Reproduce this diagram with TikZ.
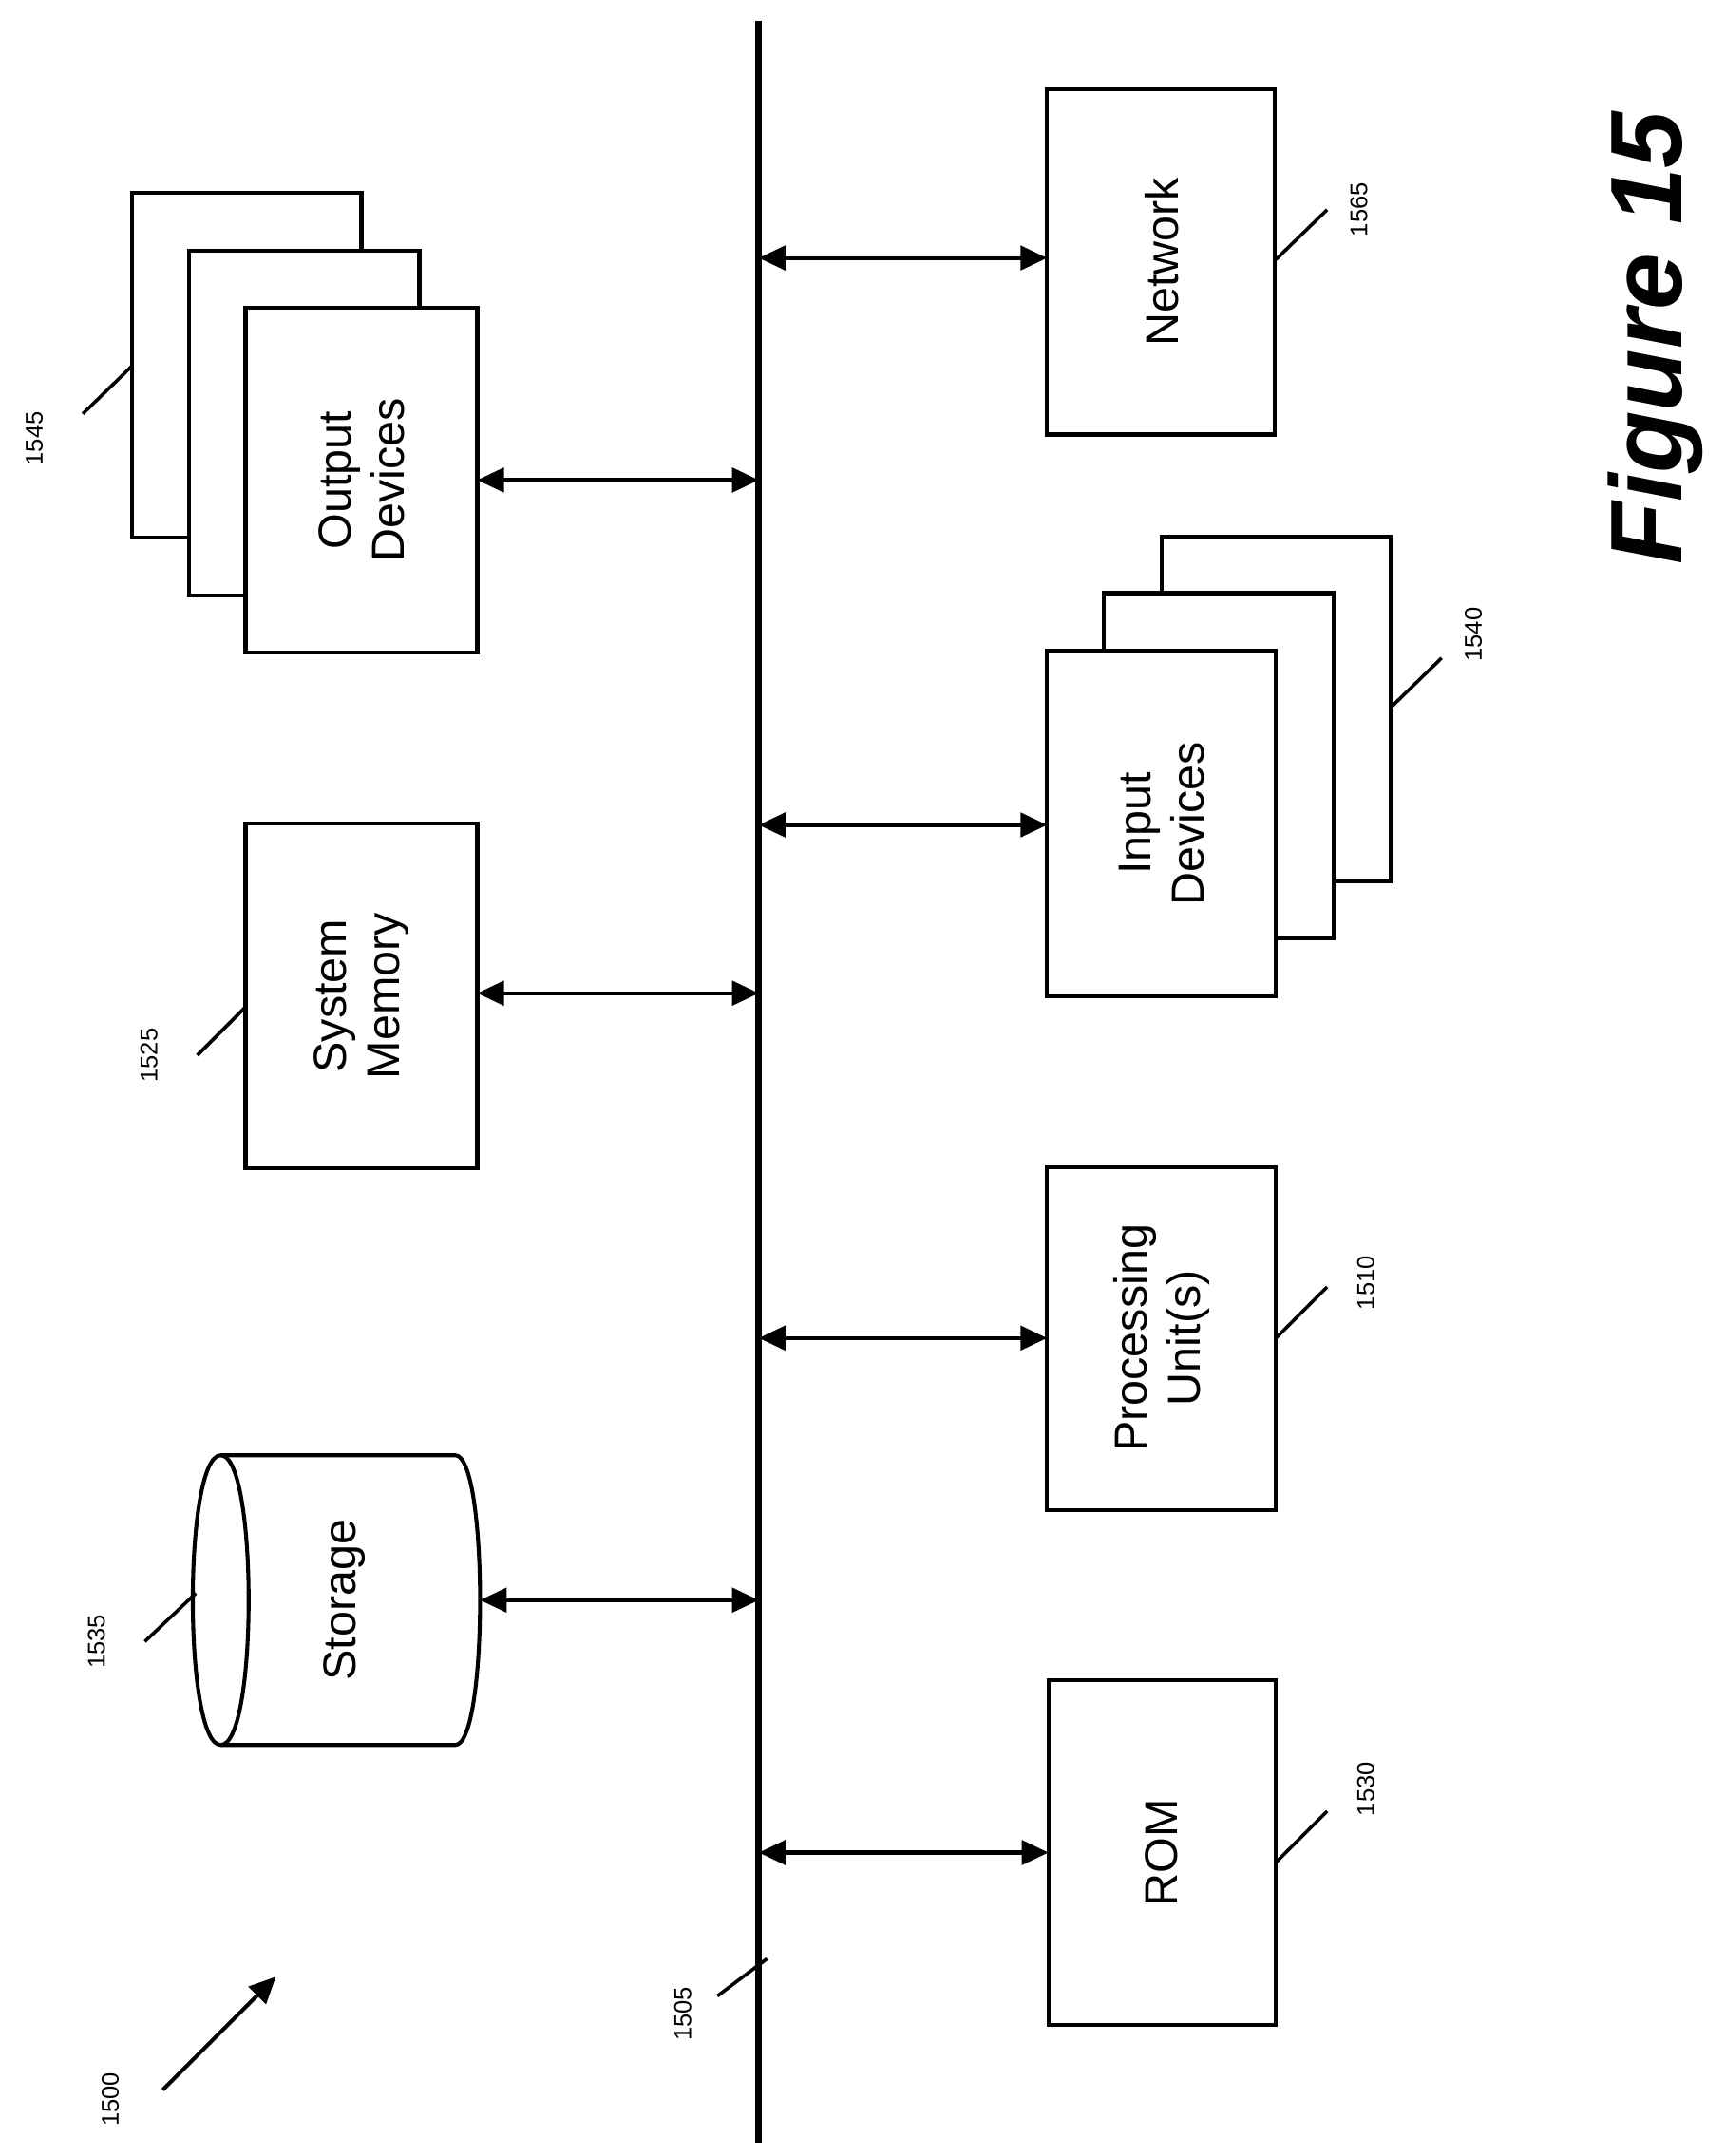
\documentclass[tikz,border=0pt]{standalone}
\usepackage{fontspec}
\setmainfont{Liberation Sans}
\usetikzlibrary{arrows.meta}
\begin{document}
\begin{tikzpicture}[x=0.02cm,y=-0.02cm,
 box/.style={draw,line width=1.6pt,fill=white},
 txt/.style={rotate=90,font=\fontsize{19}{22}\selectfont,align=center},
 lab/.style={rotate=90,font=\fontsize{10}{12}\selectfont},
 ld/.style={line width=1.4pt},
 bi/.style={line width=1.6pt,{Triangle[length=11pt,width=10pt]}-{Triangle[length=11pt,width=10pt]}}]
\useasboundingbox (0,0) rectangle (1250,1563);
\draw[line width=2.8pt] (550,15) coordinate (bt) -- (550,1553) coordinate (bb);
% left side
\draw[box] (96,140) rectangle (262,390);
\draw[box] (137,182) rectangle (304,432);
\draw[box] (178,223) rectangle (346,473);
\node[txt] (out) at (262,348) {Output\\Devices};
\draw[box] (178,597) rectangle (346,847);
\node[txt] (mem) at (262,722) {System\\Memory};
\draw[box] (160,1055) -- (330,1055) .. controls (354,1055) and (354,1265) .. (330,1265) -- (160,1265) .. controls (133,1265) and (133,1055) .. (160,1055) -- cycle;
\draw[line width=1.6pt] (160,1055) .. controls (187,1055) and (187,1265) .. (160,1265);
\node[txt] (sto) at (250,1160) {Storage};
% right side
\draw[box] (759,65) rectangle (924,315);
\node[txt] (net) at (842,190) {Network};
\draw[box] (842,389) rectangle (1008,639);
\draw[box] (800,430) rectangle (967,680);
\draw[box] (759,472) rectangle (925,722);
\node[txt] (inp) at (842,597) {Input\\Devices};
\draw[box] (759,846) rectangle (925,1095);
\node[txt] (pu) at (842,970) {Processing\\Unit(s)};
\draw[box] (760,1218) rectangle (925,1468);
\node[txt] (rom) at (842,1343) {ROM};
% arrows
\draw[bi] (346,348) -- (550,348);
\draw[bi] (346,720) -- (550,720);
\draw[bi] (348,1160) -- (550,1160);
\draw[bi] (550,187) -- (759,187);
\draw[bi] (550,598) -- (759,598);
\draw[bi] (550,970) -- (759,970);
\draw[bi] (550,1343) -- (760,1343);
% labels
\node[lab] (l1545) at (25,318) {1545}; \draw[ld] (60,300) -- (96,265);
\node[lab] (l1525) at (108,765) {1525}; \draw[ld] (143,765) -- (178,730);
\node[lab] (l1535) at (70,1190) {1535}; \draw[ld] (105,1190) -- (142,1155);
\node[lab] (l1500) at (80,1522) {1500};
\draw[line width=1.6pt,-{Triangle[length=11pt,width=10pt]}] (118,1515) -- (200,1433);
\node[lab] (l1505) at (495,1460) {1505}; \draw[ld] (520,1447) -- (556,1420);
\node[lab] (l1530) at (990,1297) {1530}; \draw[ld] (925,1350) -- (962,1313);
\node[lab] (l1510) at (990,930) {1510}; \draw[ld] (925,970) -- (962,933);
\node[lab] (l1540) at (1068,460) {1540}; \draw[ld] (1008,513) -- (1045,477);
\node[lab] (l1565) at (985,152) {1565}; \draw[ld] (925,188) -- (962,152);
\node[rotate=90,font=\fontsize{42}{46}\selectfont\bfseries\itshape] (fig) at (1200,245) {Figure 15};
\end{tikzpicture}
\end{document}
